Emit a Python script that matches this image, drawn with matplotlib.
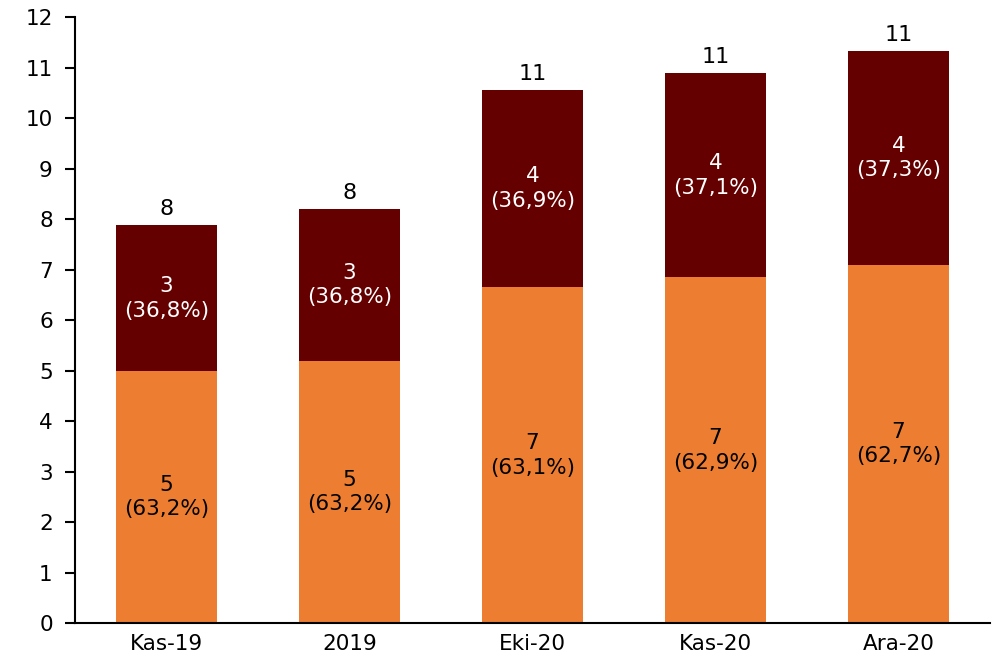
import matplotlib
matplotlib.use('Agg')
import matplotlib.pyplot as plt
import numpy as np

# Data: stacked bars (lower and upper component)
categories = ['Kas-19', '2019', 'Eki-20', 'Kas-20', 'Ara-20']
lower = [4.99, 5.19, 6.65, 6.85, 7.09]
upper = [2.89, 3.01, 3.90, 4.04, 4.24]
lower_pct = ['63,2', '63,2', '63,1', '62,9', '62,7']
upper_pct = ['36,8', '36,8', '36,9', '37,1', '37,3']

plt.rcParams['font.family'] = ['DejaVu Sans']

fig = plt.figure(figsize=(9.95, 6.63), dpi=100)
ax = fig.add_axes([0.0754, 0.0603, 0.9196, 0.9137])

x = np.arange(len(categories))
w = 0.55
ax.bar(x, lower, w, color='#ED7D31')
ax.bar(x, upper, w, bottom=lower, color='#640000')

totals = [a + b for a, b in zip(lower, upper)]
for i in range(len(categories)):
    ax.text(x[i], lower[i] / 2, f"{lower[i]:.0f}\n({lower_pct[i]}%)",
            ha='center', va='center', fontsize=15.5, color='black', linespacing=1.3)
    ax.text(x[i], lower[i] + upper[i] / 2, f"{upper[i]:.0f}\n({upper_pct[i]}%)",
            ha='center', va='center', fontsize=15.5, color='white', linespacing=1.3)
    ax.text(x[i], totals[i] + 0.12, f"{totals[i]:.0f}",
            ha='center', va='bottom', fontsize=16, color='black')

ax.set_xlim(-0.5, len(categories) - 0.5)
ax.set_ylim(0, 12)
ax.set_yticks(range(0, 13))
ax.set_xticks(x)
ax.set_xticklabels(categories)
ax.tick_params(axis='y', length=7, width=1.5, labelsize=15.5, pad=9)
ax.tick_params(axis='x', length=0, labelsize=15.5, pad=8)
for s in ['top', 'right']:
    ax.spines[s].set_visible(False)
ax.spines['left'].set_linewidth(1.5)
ax.spines['bottom'].set_linewidth(1.5)

fig.savefig('out.png', dpi=100)
